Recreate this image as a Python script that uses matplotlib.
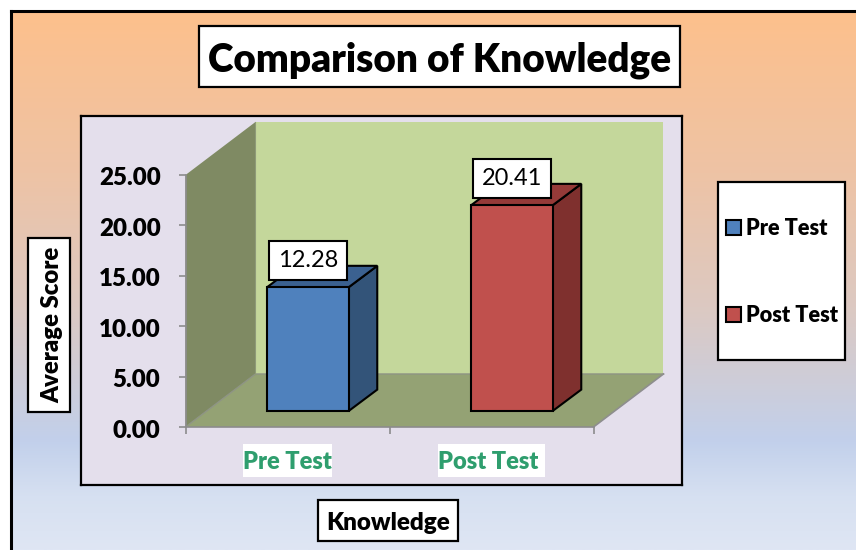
import matplotlib
matplotlib.use("Agg")
import matplotlib.pyplot as plt
import numpy as np
from matplotlib.colors import LinearSegmentedColormap
from matplotlib.patches import Patch, Rectangle
from matplotlib.transforms import ScaledTranslation

plt.rcParams['font.family'] = ['Lato', 'DejaVu Sans']

# Data
categories = ['Pre Test', 'Post Test']
scores = [12.28, 20.41]
score_labels = ['12.28', '20.41']
y_ticks = [0, 5, 10, 15, 20, 25]
y_tick_labels = ['0.00', '5.00', '10.00', '15.00', '20.00', '25.00']

W, H = 856, 550
HEAVY = 800

# Colours of the fake 3D parts
front_colors = ['#4F81BD', '#C0504D']
side_colors = ['#335479', '#7F302E']
top_colors = ['#3B6190', '#953A38']

# Depth of walls and bars, in data units
wall_dx, wall_dy = 0.343, 5.26
bar_dx, bar_dy = 0.14, 2.12
lift_dx, lift_dy = 0.1, 1.59
bar_width = 0.4

# White boxes behind the category labels (half width in slots, y range in data units)
label_half_widths = [0.22, 0.262]
label_box_y = (-4.96, -1.69)


def px_rect(x0, y0, x1, y1):
    # pixel box (origin top left) -> figure fractions
    return [x0 / W, 1 - y1 / H, (x1 - x0) / W, (y1 - y0) / H]


def nudge(text, dx_px, dy_px):
    # move a text by some pixels (y up)
    text.set_transform(text.get_transform() + ScaledTranslation(dx_px / 100, dy_px / 100, fig.dpi_scale_trans))


def boxed_text(x0, y0, x1, y1, text, size, rotation=0, dx=0.0):
    l, b, w, h = px_rect(x0, y0, x1, y1)
    fig.add_artist(Rectangle((l, b), w, h, transform=fig.transFigure, fc='white',
                             ec='black', lw=1.6, zorder=3))
    fig.text(l + w / 2 + dx / W, b + h / 2, text, ha='center', va='center_baseline', fontsize=size,
             fontweight=HEAVY, rotation=rotation, rotation_mode='anchor', color='black', zorder=4)


fig = plt.figure(figsize=(W / 100, H / 100), dpi=100, facecolor='white')

# Background gradient with the black border on top and left
bg = fig.add_axes(px_rect(11, 11, W, H))
cmap = LinearSegmentedColormap.from_list('bg', [(0, '#FDC08C'), (0.3, '#EEC3A5'), (0.55, '#DCC9C2'),
                                                (0.8, '#C2D0EB'), (0.9, '#D6E0F1'), (1, '#DFE6F4')])
bg.imshow(np.linspace(0, 1, 256).reshape(-1, 1), cmap=cmap, aspect='auto', vmin=0, vmax=1)
bg.set_xticks([])
bg.set_yticks([])
for side in ['right', 'bottom']:
    bg.spines[side].set_visible(False)
for side in ['left', 'top']:
    bg.spines[side].set_linewidth(2.2)

# Plot area panel
panel = fig.add_axes(px_rect(80.5, 116, 681.5, 485), facecolor='#E4DFEC')
panel.set_xticks([])
panel.set_yticks([])
for spine in panel.spines.values():
    spine.set_linewidth(1.6)

# Chart axes
ax = fig.add_axes(px_rect(185.5, 175, 593.5, 427))
ax.patch.set_visible(False)
ax.set_xlim(0, len(categories))
ax.set_ylim(0, 25)

y_top = y_ticks[-1]
x_end = len(categories)

# Walls and floor
ax.fill([wall_dx, x_end + wall_dx, x_end + wall_dx, wall_dx],
        [wall_dy, wall_dy, y_top + wall_dy, y_top + wall_dy], color='#C4D79B', lw=0, clip_on=False, zorder=1)
ax.fill([0, wall_dx, wall_dx, 0], [0, wall_dy, y_top + wall_dy, y_top], color='#7F8A63', lw=0, clip_on=False, zorder=1)
ax.fill([0, x_end, x_end + wall_dx, wall_dx], [0, 0, wall_dy, wall_dy], color='#94A274', lw=0, clip_on=False, zorder=1)
ax.plot([0, wall_dx, x_end + wall_dx], [0, wall_dy, wall_dy], color='#8E9484', lw=1, clip_on=False, zorder=1.5)
ax.plot([wall_dx, wall_dx], [wall_dy, y_top + wall_dy], color='#8E9A78', lw=0.8, clip_on=False, zorder=1.5)
ax.plot([x_end, x_end + wall_dx], [0, wall_dy], color='#8E8E8E', lw=1.2, clip_on=False, zorder=1.5)

# Bars
for i, value in enumerate(scores):
    xc = i + 0.5 + lift_dx
    left, right = xc - bar_width / 2, xc + bar_width / 2
    base, top = lift_dy, lift_dy + value
    ax.bar(xc, value, width=bar_width, bottom=base, color=front_colors[i], edgecolor='black', linewidth=1.5,
           zorder=3, clip_on=False)
    ax.fill([right, right + bar_dx, right + bar_dx, right], [base, base + bar_dy, top + bar_dy, top],
            facecolor=side_colors[i], edgecolor='black', linewidth=1.5, clip_on=False, zorder=2.5)
    ax.fill([left, right, right + bar_dx, left + bar_dx], [top, top, top + bar_dy, top + bar_dy],
            facecolor=top_colors[i], edgecolor='black', linewidth=1.5, clip_on=False, zorder=2.5)
    ax.annotate(score_labels[i], (xc, top), xytext=(0, 19.5), textcoords='offset points', ha='center', va='center',
                fontsize=17, color='black', zorder=5,
                bbox=dict(boxstyle='square,pad=0.38', fc='white', ec='black', lw=1.5))
    # white box behind the category label
    hw = label_half_widths[i]
    ax.add_patch(Rectangle((i + 0.5 - hw, label_box_y[0]), 2 * hw, label_box_y[1] - label_box_y[0], fc='white',
                           ec='none', clip_on=False, zorder=1))

# Axis lines, ticks, labels
for side in ['top', 'right']:
    ax.spines[side].set_visible(False)
for side in ['left', 'bottom']:
    ax.spines[side].set_color('#8C8C8C')
    ax.spines[side].set_linewidth(1.2)
    ax.spines[side].set_zorder(1.6)
ax.set_yticks(y_ticks)
ax.tick_params(axis='y', length=5, width=1.2, color='#8C8C8C', pad=13)
ax.set_yticklabels(y_tick_labels, fontsize=17.4, fontweight=HEAVY, va='center_baseline')
for lab in ax.get_yticklabels():
    nudge(lab, 0, -1.5)
ax.set_xticks(range(len(categories) + 1))
ax.set_xticklabels([])
ax.tick_params(axis='x', which='major', length=5, width=1.2, color='#8C8C8C')
ax.set_xticks([i + 0.5 for i in range(len(categories))], minor=True)
ax.tick_params(axis='x', which='minor', length=0, pad=17.5)
ax.set_xticklabels(categories, minor=True, fontsize=17, fontweight=HEAVY, color='#2F9E6E')
nudge(ax.get_xticklabels(minor=True)[1], -3, 0)

# Title and axis titles in their boxes
boxed_text(198.5, 26, 680, 86.5, 'Comparison of Knowledge', 27.9)
boxed_text(28, 238, 69.5, 412, 'Average Score', 17.2, rotation=90, dx=1.5)
boxed_text(318, 500, 458, 541, 'Knowledge', 17.4)

# Legend box
l, b, w, h = px_rect(717.5, 182, 845, 360)
fig.add_artist(Rectangle((l, b), w, h, transform=fig.transFigure, fc='white', ec='black', lw=1.6, zorder=3))
handles = [Patch(facecolor=c, edgecolor='black', linewidth=1.5) for c in front_colors]
leg = fig.legend(handles, categories, loc='center left', bbox_to_anchor=(726 / W, 1 - 272 / H), frameon=False,
                 prop={'size': 15.6, 'weight': HEAVY}, handlelength=0.68, handleheight=0.68, handletextpad=0.25,
                 labelspacing=3.07, borderpad=0, borderaxespad=0)
leg.set_zorder(4)

fig.savefig('out.png', dpi=100)
